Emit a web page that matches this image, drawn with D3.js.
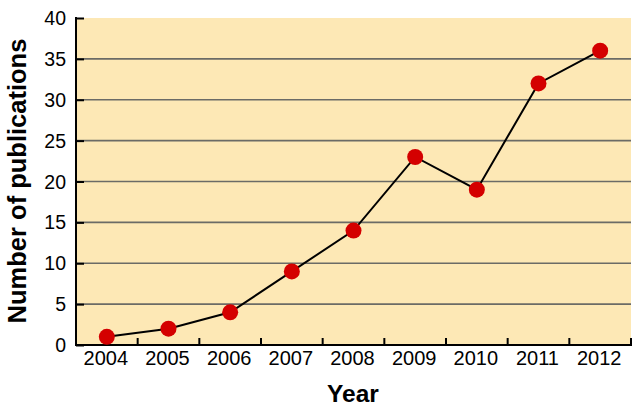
<!DOCTYPE html>
<html>
<head>
<meta charset="utf-8">
<script src="https://cdn.jsdelivr.net/npm/d3@7"></script>
<style>
  body { margin: 0; background: #fff; }
  svg { display: block; }
  text { font-family: "Liberation Sans", Arial, sans-serif; fill: #000; }
</style>
</head>
<body>
<svg id="chart" width="644" height="415"></svg>
<script>
const years = ['2004', '2005', '2006', '2007', '2008', '2009', '2010', '2011', '2012']
const pubs = [1, 2, 4, 9, 14, 23, 19, 32, 36]
const yTicks = [0, 5, 10, 15, 20, 25, 30, 35, 40]

let svg = d3.select('#chart')
let mLeft = 76, mRight = 631, mTop = 18, mBottom = 345

let x = d3.scaleBand().domain(years).range([mLeft, mRight]).padding(0),
    y = d3.scaleLinear().domain([0, 40]).range([mBottom, mTop])

// background
svg.append('rect')
    .attr('x', mLeft).attr('y', mTop)
    .attr('width', mRight - mLeft).attr('height', mBottom - mTop)
    .style('fill', '#fde8b5')

// gridlines
svg.append('g').selectAll('line')
    .data(yTicks.filter(d => d > 0 && d < 40))
    .join('line')
    .attr('x1', mLeft).attr('x2', mRight)
    .attr('y1', d => y(d)).attr('y2', d => y(d))
    .style('stroke', '#6b6b66')
    .style('stroke-width', 1.6)

// y axis
let yAxis = svg.append('g')
    .attr('transform', `translate(${mLeft},0)`)
    .call(d3.axisRight(y).tickValues(yTicks).tickSize(8).tickFormat(''))
yAxis.select('.domain').remove()
yAxis.selectAll('line').style('stroke', '#000').style('stroke-width', 2)
svg.append('line')
    .attr('x1', mLeft).attr('x2', mLeft).attr('y1', mTop - 1).attr('y2', mBottom)
    .style('stroke', '#000').style('stroke-width', 2)
svg.append('g').selectAll('text')
    .data(yTicks)
    .join('text')
    .attr('x', 66)
    .attr('y', d => y(d))
    .attr('dy', '0.36em')
    .attr('text-anchor', 'end')
    .style('font-size', '19.5px')
    .text(d => d)

// x axis: ticks at band boundaries pointing inward
let bounds = years.map(d => x(d) + x.bandwidth())
svg.append('g').selectAll('line')
    .data(bounds)
    .join('line')
    .attr('x1', d => d).attr('x2', d => d)
    .attr('y1', mBottom).attr('y2', mBottom - 7)
    .style('stroke', '#000').style('stroke-width', 2)
svg.append('line')
    .attr('x1', mLeft - 1).attr('x2', mRight + 1).attr('y1', mBottom).attr('y2', mBottom)
    .style('stroke', '#000').style('stroke-width', 2)
svg.append('g').selectAll('text')
    .data(years)
    .join('text')
    .attr('x', d => x(d) + x.bandwidth() / 2 - 1)
    .attr('y', 364.5)
    .attr('text-anchor', 'middle')
    .style('font-size', '20px')
    .text(d => d)

// line + points
let cx = (d, i) => x(years[i]) + x.bandwidth() / 2
svg.append('path')
    .datum(pubs)
    .attr('d', d3.line().x(cx).y(d => y(d)))
    .style('fill', 'none')
    .style('stroke', '#000')
    .style('stroke-width', 2)
svg.append('g').selectAll('circle')
    .data(pubs)
    .join('circle')
    .attr('cx', cx)
    .attr('cy', d => y(d))
    .attr('r', 8)
    .style('fill', '#d40000')

// titles
svg.append('text')
    .attr('x', 353).attr('y', 402)
    .attr('text-anchor', 'middle')
    .style('font-size', '24.5px').style('font-weight', 'bold')
    .text('Year')
svg.append('text')
    .attr('transform', 'translate(26,181) rotate(-90)')
    .attr('text-anchor', 'middle')
    .style('font-size', '25.5px').style('font-weight', 'bold')
    .text('Number of publications')
</script>
</body>
</html>
